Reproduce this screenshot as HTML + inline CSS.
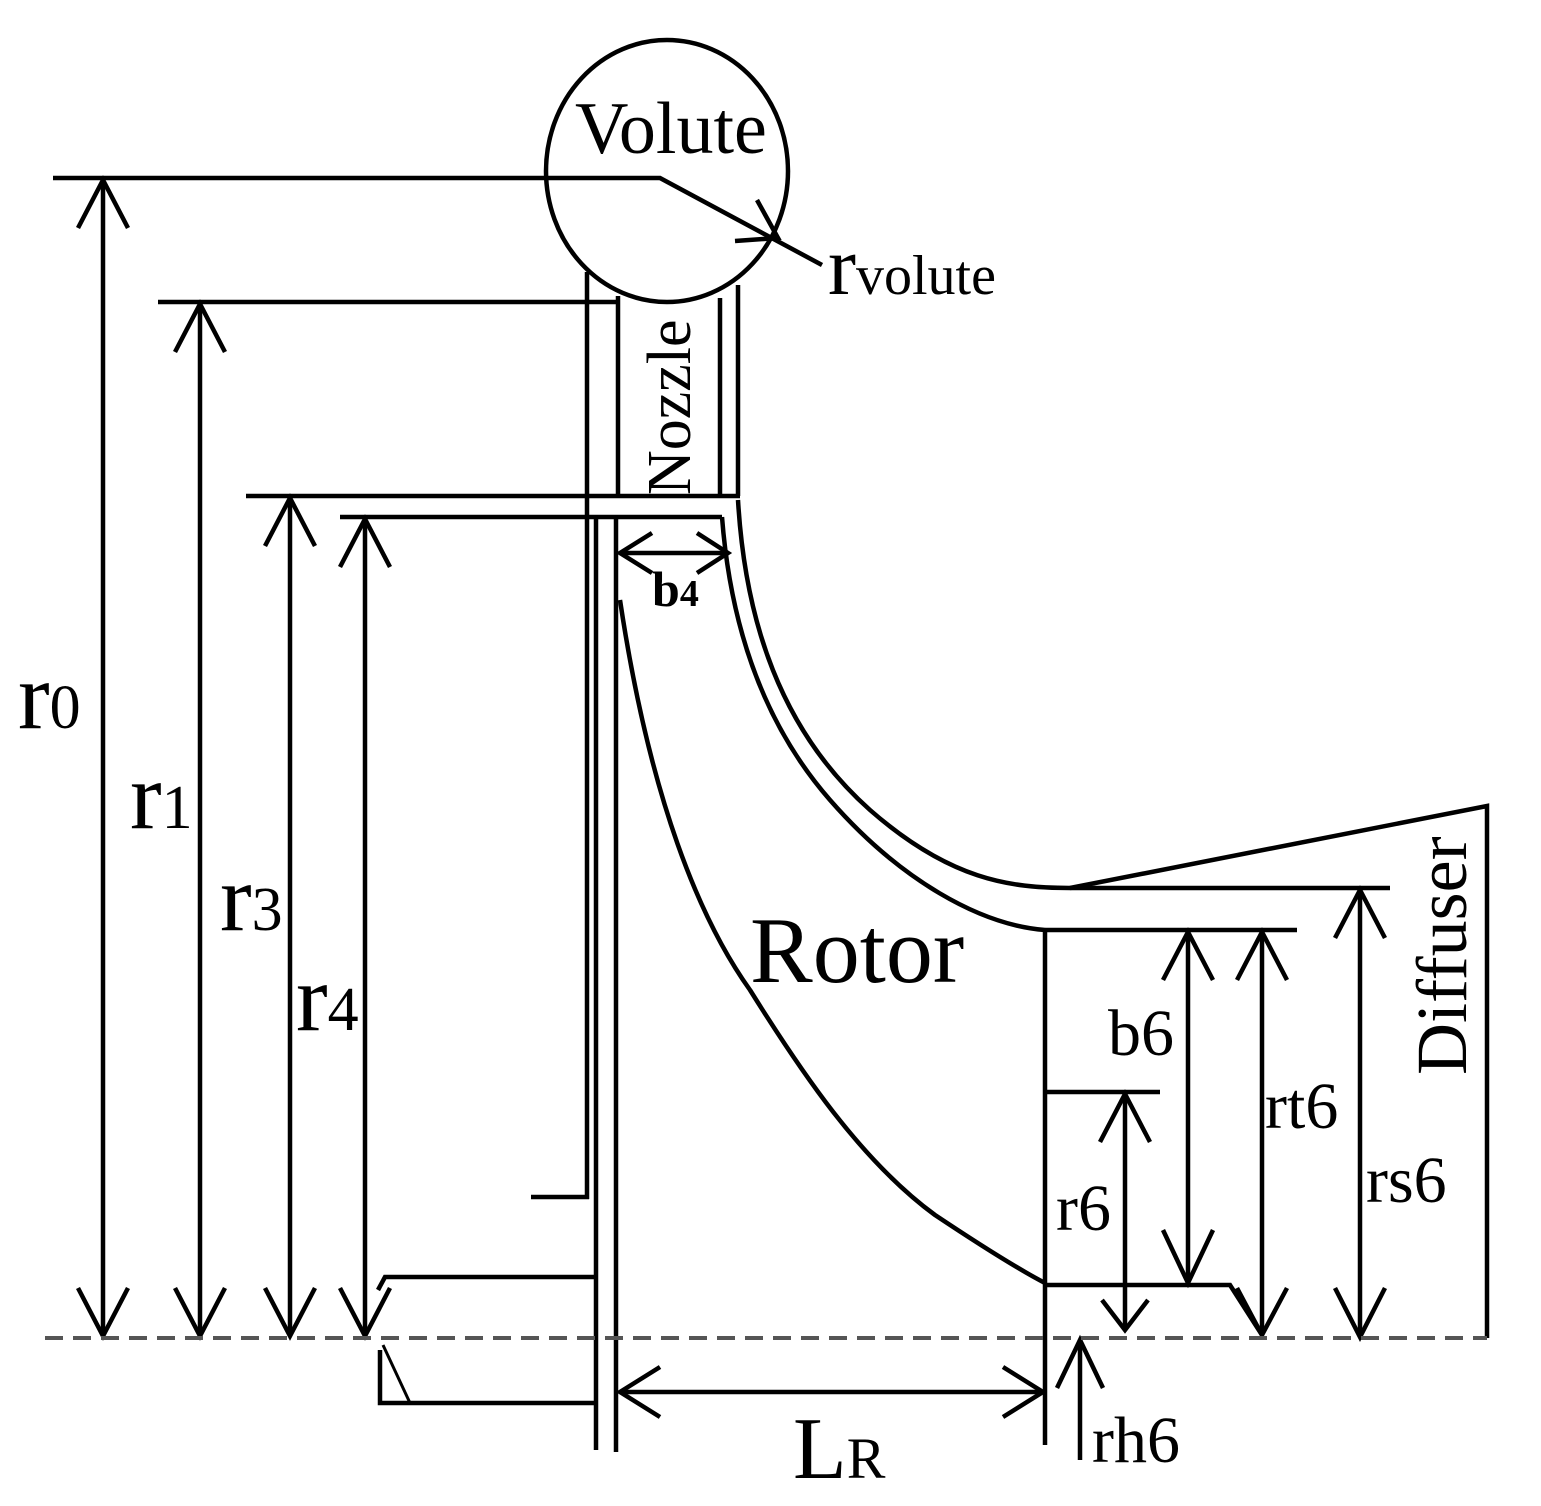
<!DOCTYPE html>
<html><head><meta charset="utf-8"><style>
html,body{margin:0;padding:0;background:#fff;}
svg{display:block;}
text{font-family:"Liberation Serif",serif;fill:#000;}
</style></head><body>
<svg width="1541" height="1506" viewBox="0 0 1541 1506" xmlns="http://www.w3.org/2000/svg">
<g fill="none" stroke="#000" stroke-width="4.5" stroke-linecap="butt">
<ellipse cx="667" cy="171" rx="121" ry="131"/>
<polyline points="53,178 660,178 822,265"/>
<path d="M757,200 L778,238 L735,241"/>
<line x1="158" y1="302" x2="620" y2="302"/>
<line x1="246" y1="496" x2="740" y2="496"/>
<line x1="340" y1="517" x2="722" y2="517"/>
<line x1="587" y1="272" x2="587" y2="1199"/>
<line x1="531" y1="1197" x2="589" y2="1197"/>
<line x1="618" y1="296" x2="618" y2="496"/>
<line x1="720" y1="298" x2="720" y2="496"/>
<line x1="738" y1="285" x2="738" y2="496"/>
<line x1="596" y1="517" x2="596" y2="1450"/>
<line x1="616" y1="517" x2="616" y2="1452"/>
<line x1="620" y1="553" x2="728" y2="553"/>
<path d="M652,533 L620,553 L652,573 M697,533 L728,553 L697,573"/>
<path d="M620,600 C650,800 700,920 750,990 C800,1070 860,1160 935,1215 C980,1245 1020,1270 1045,1283"/>
<path d="M722,517 C730,620 760,720 830,800 C900,880 980,925 1045,930"/>
<path d="M738,500 C745,620 780,730 870,810 C950,880 1010,888 1070,888"/>
<line x1="1045" y1="930" x2="1297" y2="930"/>
<line x1="1070" y1="888" x2="1390" y2="888"/>
<polyline points="1070,888 1487,806 1487,1338"/>
<line x1="1045" y1="930" x2="1045" y2="1445"/>
<line x1="1045" y1="1092" x2="1160" y2="1092"/>
<polyline points="1045,1285 1230,1285 1262,1335"/>
<polyline points="596,1277 385,1277 378,1290"/>
<polyline points="596,1403 380,1403 380,1350"/>
<path d="M383,1345 L410,1403" stroke-width="3"/>
<line x1="103" y1="180" x2="103" y2="1336"/>
<path d="M78,228 L103,180 L128,228 M78,1288 L103,1336 L128,1288"/>
<line x1="200" y1="304" x2="200" y2="1336"/>
<path d="M175,352 L200,304 L225,352 M175,1288 L200,1336 L225,1288"/>
<line x1="290" y1="498" x2="290" y2="1336"/>
<path d="M265,546 L290,498 L315,546 M265,1288 L290,1336 L315,1288"/>
<line x1="365" y1="519" x2="365" y2="1336"/>
<path d="M340,567 L365,519 L390,567 M340,1288 L365,1336 L390,1288"/>
<line x1="1188" y1="932" x2="1188" y2="1283"/>
<path d="M1163,980 L1188,932 L1213,980 M1163,1230 L1188,1283 L1213,1230"/>
<line x1="1262" y1="932" x2="1262" y2="1335"/>
<path d="M1237,980 L1262,932 L1287,980 M1237,1288 L1262,1335 L1287,1288"/>
<line x1="1360" y1="890" x2="1360" y2="1337"/>
<path d="M1335,938 L1360,890 L1385,938 M1335,1288 L1360,1337 L1385,1288"/>
<line x1="1125" y1="1094" x2="1125" y2="1330"/>
<path d="M1100,1142 L1125,1094 L1150,1142 M1102,1300 L1125,1330 L1148,1300"/>
<line x1="1080" y1="1340" x2="1080" y2="1460"/>
<path d="M1057,1388 L1080,1340 L1103,1388"/>
<line x1="620" y1="1392" x2="1043" y2="1392"/>
<path d="M660,1367 L620,1392 L660,1417 M1003,1367 L1043,1392 L1003,1417"/>
</g>
<line x1="45" y1="1338" x2="1487" y2="1338" stroke="#555" stroke-width="4" stroke-dasharray="18,10"/>
<text x="575" y="153" font-size="74">Volute</text>
<text x="828" y="294" font-size="84">r<tspan font-size="56">volute</tspan></text>
<text x="690" y="495" font-size="62" transform="rotate(-90 690 495)">Nozzle</text>
<text x="652" y="606" font-size="50" font-weight="bold">b<tspan font-size="38">4</tspan></text>
<text x="18" y="728" font-size="95">r<tspan font-size="62">0</tspan></text>
<text x="130" y="828" font-size="95">r<tspan font-size="62">1</tspan></text>
<text x="220" y="930" font-size="95">r<tspan font-size="62">3</tspan></text>
<text x="296" y="1030" font-size="95">r<tspan font-size="62">4</tspan></text>
<text x="750" y="982" font-size="94">Rotor</text>
<text x="1108" y="1055" font-size="66">b6</text>
<text x="1265" y="1128" font-size="66">rt6</text>
<text x="1366" y="1202" font-size="66">rs6</text>
<text x="1056" y="1230" font-size="66">r6</text>
<text x="1092" y="1462" font-size="66">rh6</text>
<text x="1466" y="1075" font-size="72" transform="rotate(-90 1466 1075)">Diffuser</text>
<text x="793" y="1478" font-size="88">L<tspan font-size="58">R</tspan></text>
</svg>
</body></html>
